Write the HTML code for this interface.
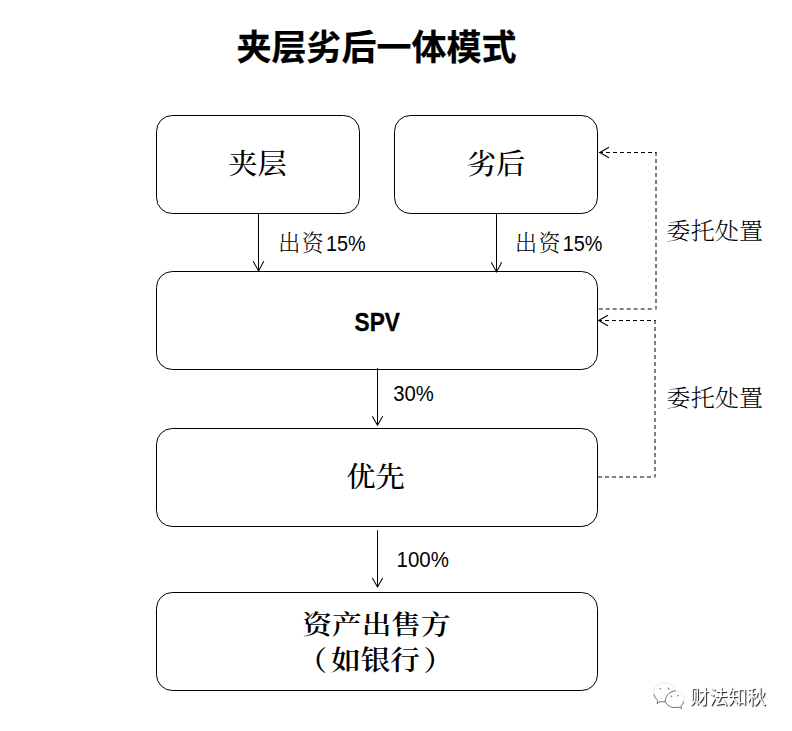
<!DOCTYPE html>
<html lang="zh-CN">
<head>
<meta charset="utf-8">
<title>夹层劣后一体模式</title>
<style>
  html, body { margin: 0; padding: 0; background: #ffffff; }
  body { width: 792px; height: 731px; overflow: hidden; position: relative; }
  svg { position: absolute; left: 0; top: 0; display: block; }
  .box { fill: #ffffff; stroke: #000000; stroke-width: 1; }
  .ln { fill: none; stroke: #000000; stroke-width: 1; }
  .dash { fill: none; stroke: #000000; stroke-width: 1; stroke-dasharray: 4 3; }
  .head { fill: none; stroke: #000000; stroke-width: 1.05; stroke-linecap: butt; stroke-linejoin: miter; }
  text { fill: #000000; }
  .title { font-family: "Liberation Sans", "Noto Sans CJK SC", sans-serif; font-weight: 700; font-size: 35px; stroke: #000000; stroke-width: 0.25px; }
  .node { font-family: "Liberation Serif", "Noto Serif CJK SC", serif; font-weight: 500; font-size: 29.33px; }
  .nodeb { font-family: "Liberation Serif", "Noto Serif CJK SC", serif; font-weight: 600; font-size: 29.33px; }
  .spv { font-family: "Liberation Sans", "Noto Sans CJK SC", sans-serif; font-weight: 700; font-size: 24px; stroke: #000000; stroke-width: 0.3px; }
  .lab { font-family: "Liberation Serif", "Noto Serif CJK SC", serif; font-weight: 300; font-size: 24px; }
  .num { font-family: "Liberation Sans", "Noto Sans CJK SC", sans-serif; font-weight: 400; font-size: 22.3px; }
  .wm { position: absolute; left: 690px; top: 683.5px; font-family: "Liberation Sans", "Noto Sans CJK SC", sans-serif;
        font-size: 19px; line-height: 28px; color: #ffffff; white-space: nowrap;
        text-shadow: 1px 1px 1px rgba(0,0,0,0.95); opacity: 0.99; will-change: opacity; }
</style>
</head>
<body>
<svg width="792" height="731" viewBox="0 0 792 731">
  <!-- boxes -->
  <rect class="box" x="156.5" y="115.5" width="203" height="98" rx="15.8" ry="15.8"/>
  <rect class="box" x="394.5" y="115.5" width="203" height="98" rx="15.8" ry="15.8"/>
  <rect class="box" x="156.5" y="271.5" width="441" height="98" rx="15.8" ry="15.8"/>
  <rect class="box" x="156.5" y="428.5" width="441" height="98" rx="15.8" ry="15.8"/>
  <rect class="box" x="156.5" y="592.5" width="441" height="98" rx="15.8" ry="15.8"/>

  <!-- solid arrows -->
  <path class="ln" d="M258.5 213.5 V270.5"/>
  <path class="head" d="M253.2 261.3 L258.5 271 L263.8 261.3"/>
  <path class="ln" d="M496.5 213.5 V271"/>
  <path class="head" d="M491.3 262.3 L496.5 272 L501.7 262.3"/>
  <path class="ln" d="M377.5 368 V424.8"/>
  <path class="head" d="M372.3 416.3 L377.5 425.2 L382.7 416.3"/>
  <path class="ln" d="M377.5 530.2 V586.5"/>
  <path class="head" d="M372.3 578.1 L377.5 587 L382.7 578.1"/>

  <!-- dashed connectors -->
  <path class="dash" d="M599 152.5 H656.5"/>
  <path class="dash" d="M656 152 V309.5"/>
  <path class="dash" d="M651.7 309 H597.5"/>
  <path class="head" d="M609 147.2 L599.8 152.5 L609 157.8"/>
  <path class="dash" d="M598 320.5 H655.5"/>
  <path class="dash" d="M655 320 V477.5"/>
  <path class="dash" d="M651 477 H597.5"/>
  <path class="head" d="M608 315.2 L598.6 320.5 L608 325.8"/>

  <!-- text -->
  <text class="title" x="376.5" y="59.5" text-anchor="middle">夹层劣后一体模式</text>
  <text class="node" transform="translate(257.6 174.3) scale(1 0.95)" text-anchor="middle">夹层</text>
  <text class="node" transform="translate(496 174.3) scale(1 0.95)" text-anchor="middle">劣后</text>
  <text class="spv" transform="translate(377.2 330.8) scale(0.945 1.08)" text-anchor="middle">SPV</text>
  <text class="node" transform="translate(375.5 487.3) scale(1 0.95)" text-anchor="middle">优先</text>
  <text class="nodeb" transform="translate(376.5 633.8) scale(1.012 0.9)" text-anchor="middle">资产出售方</text>
  <text class="nodeb" transform="translate(0 669.85) scale(1.012 0.94)"><tspan x="293.97">（</tspan><tspan x="327.08">如银行</tspan><tspan x="418.38">）</tspan></text>
  <text class="lab" transform="translate(278.15 251) scale(0.92 0.94)" letter-spacing="1.7">出资</text>
  <text class="num" transform="translate(325.9 250.8) scale(0.89 1)">15%</text>
  <text class="lab" transform="translate(514.95 251) scale(0.92 0.94)" letter-spacing="1.7">出资</text>
  <text class="num" transform="translate(562.7 250.8) scale(0.89 1)">15%</text>
  <text class="num" transform="translate(393.2 401.3) scale(0.909 1)">30%</text>
  <text class="num" transform="translate(396.5 567.2) scale(0.918 1)">100%</text>
  <text class="lab" transform="translate(666.5 239) scale(1 0.94)" letter-spacing="0.2">委托处置</text>
  <text class="lab" transform="translate(666.5 406) scale(1 0.94)" letter-spacing="0.2">委托处置</text>

  <!-- watermark icon (chat bubbles) -->
  <g fill="none" stroke-linecap="round" stroke-linejoin="round">
    <path d="M657.6 700.2 C655 698.4 653.6 695.4 653.6 692 C653.6 686.9 658.4 682.8 664.4 682.8 C670 682.8 674.6 686.3 675.2 690.8" stroke="#e9e9e9" stroke-width="0.9"/>
    <path d="M675.2 690.8 C680.4 690.9 684.4 694.6 684.4 699.2 C684.4 701.8 683.2 704.1 681.2 705.7" stroke="#e9e9e9" stroke-width="0.9"/>
    <path d="M654 694.8 C654.6 696.9 655.9 698.8 657.7 700.2 L657.1 703.5 L660.2 701.6 C661.7 701.9 663.4 702 665.2 701.7" stroke="#606060" stroke-width="0.9"/>
    <path d="M665.3 701.8 C664.6 697.4 668.3 691.6 675.3 690.8" stroke="#606060" stroke-width="0.9"/>
    <path d="M665.8 702.6 C667.2 705.6 670.6 707.6 674.8 707.6 C676.2 707.6 677.5 707.4 678.7 707 L681.4 708.6 L681.1 705.8 C682.3 704.8 683.2 703.5 683.7 702" stroke="#606060" stroke-width="0.9"/>
  </g>
  <g fill="#8a8a8a">
    <circle cx="660.3" cy="688.6" r="0.9"/>
    <circle cx="668.7" cy="688.5" r="0.9"/>
    <circle cx="671.4" cy="696.3" r="0.9"/>
    <circle cx="678" cy="695.6" r="0.9"/>
  </g>
</svg>
<div class="wm">财法知秋</div>
</body>
</html>
